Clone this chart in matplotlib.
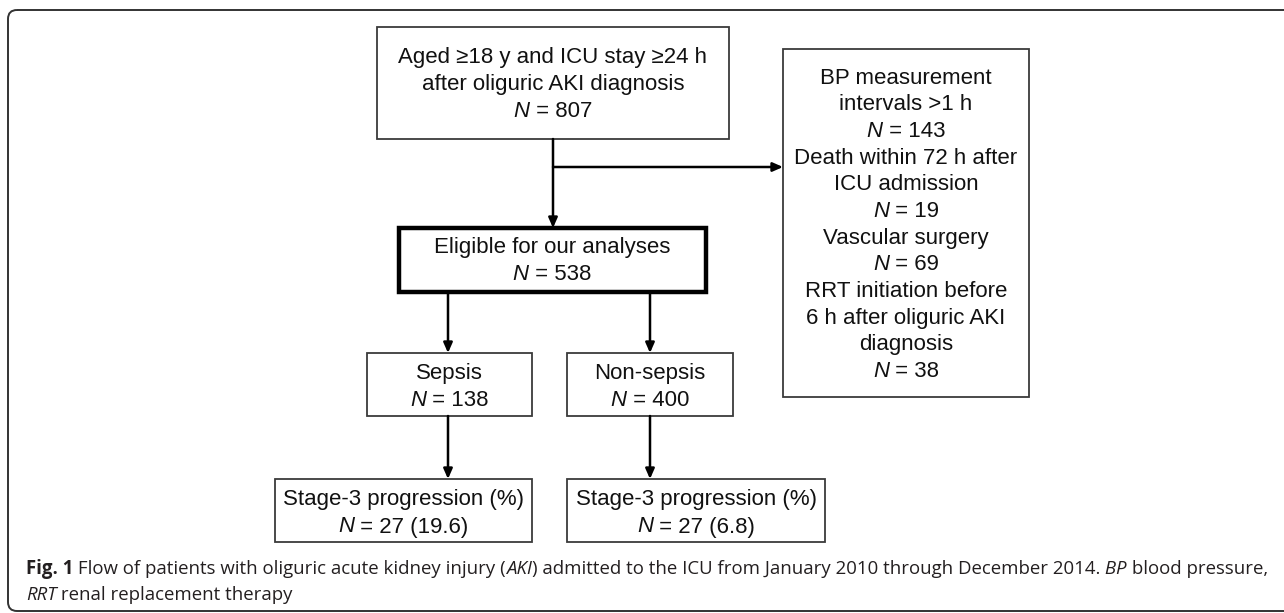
import matplotlib
matplotlib.use('Agg')
import matplotlib.pyplot as plt
from matplotlib.patches import Rectangle, FancyBboxPatch

# flow chart contents
top_lines = ["Aged \u226518 y and ICU stay \u226524 h", "after oliguric AKI diagnosis"]
n_total = 807
eligible_label = "Eligible for our analyses"
n_eligible = 538
excl_labels = [["BP measurement", "intervals >1 h"],
               ["Death within 72 h after", "ICU admission"],
               ["Vascular surgery"],
               ["RRT initiation before", "6 h after oliguric AKI", "diagnosis"]]
excl_n = [143, 19, 69, 38]
groups = ["Sepsis", "Non-sepsis"]
group_n = [138, 400]
stage_label = "Stage-3 progression (%)"
stage_n = [27, 27]
stage_pct = [19.6, 6.8]

BOX_FONT = ['Liberation Sans', 'DejaVu Sans']
CAP_FONT = ['Open Sans', 'DejaVu Sans']
FS = 16
LINE = 26.7

W, H = 1284, 613
fig = plt.figure(figsize=(W / 100, H / 100), dpi=100)
ax = fig.add_axes([0, 0, 1, 1])
ax.set_xlim(0, W)
ax.set_ylim(H, 0)
ax.axis('off')
renderer = fig.canvas.get_renderer()


def rich(x, y, pieces, ha='center', size=FS, family=BOX_FONT, color='#111111'):
    """Draw a line of text made of (string, style, weight) pieces."""
    arts = []
    for s, style, weight in pieces:
        t = ax.text(0, y, s, ha='left', va='center', fontsize=size, family=family,
                    fontstyle=style, fontweight=weight, color=color)
        arts.append(t)
    widths = [t.get_window_extent(renderer).width for t in arts]
    total = sum(widths)
    x0 = x - total / 2 if ha == 'center' else x
    for t, w in zip(arts, widths):
        t.set_x(x0)
        x0 += w


def n_line(x, y, value):
    rich(x, y, [("N", 'italic', 'normal'), (" = " + value, 'normal', 'normal')])


def box(x0, y0, x1, y1, lw=1.3, color='#3a3a3a'):
    ax.add_patch(Rectangle((x0, y0), x1 - x0, y1 - y0, fill=False, lw=lw, ec=color))


def arrow(x0, y0, x1, y1):
    ax.annotate('', xy=(x1, y1), xytext=(x0, y0),
                arrowprops=dict(arrowstyle='-|>,head_length=0.5,head_width=0.22',
                                color='black', lw=1.8,
                                mutation_scale=12, shrinkA=0, shrinkB=0))


# outer frame (open on the right)
ax.add_patch(FancyBboxPatch((8, 10), W + 20, 601, boxstyle='round,pad=0,rounding_size=9',
                            fill=False, lw=1.4, ec='#333333'))

# top box
box(377, 27, 729, 139)
for i, s in enumerate(top_lines):
    rich(553, 58 + i * LINE, [(s, 'normal', 'normal')])
n_line(553, 58 + 2 * LINE, str(n_total))

# eligible box
box(399, 228, 706, 292, lw=3.2, color='black')
rich(552, 248, [(eligible_label, 'normal', 'normal')])
n_line(552, 275, str(n_eligible))

# exclusion box
box(783, 49, 1029, 397)
yy = 78
for labels, n in zip(excl_labels, excl_n):
    for s in labels:
        rich(906, yy, [(s, 'normal', 'normal')])
        yy += LINE
    n_line(906, yy, str(n))
    yy += LINE

# arrows from top box
arrow(553, 139, 553, 228)
arrow(553, 167, 783, 167)

# group boxes
group_boxes = [(367, 532), (567, 733)]
stage_boxes = [(275, 532), (567, 825)]
arrow_x = [448, 650]
for i in range(2):
    gx0, gx1 = group_boxes[i]
    box(gx0, 353, gx1, 416)
    rich((gx0 + gx1) / 2, 373, [(groups[i], 'normal', 'normal')])
    n_line((gx0 + gx1) / 2, 400, str(group_n[i]))
    sx0, sx1 = stage_boxes[i]
    box(sx0, 479, sx1, 542)
    rich((sx0 + sx1) / 2, 500, [(stage_label, 'normal', 'normal')])
    n_line((sx0 + sx1) / 2, 527, f"{stage_n[i]} ({stage_pct[i]})")
    arrow(arrow_x[i], 292, arrow_x[i], 353)
    arrow(arrow_x[i], 416, arrow_x[i], 479)

# caption
CS = 13.4
rich(26, 569, [("Fig. 1", 'normal', 'bold'),
               (" Flow of patients with oliguric acute kidney injury (", 'normal', 'normal'),
               ("AKI", 'italic', 'normal'),
               (") admitted to the ICU from January 2010 through December 2014.", 'normal', 'normal'),
               (" BP", 'italic', 'normal'),
               (" blood pressure,", 'normal', 'normal')],
     ha='left', size=CS, family=CAP_FONT, color='#231f20')
rich(26, 595, [("RRT", 'italic', 'normal'),
               (" renal replacement therapy", 'normal', 'normal')],
     ha='left', size=CS, family=CAP_FONT, color='#231f20')

fig.savefig('out.png', dpi=100)
